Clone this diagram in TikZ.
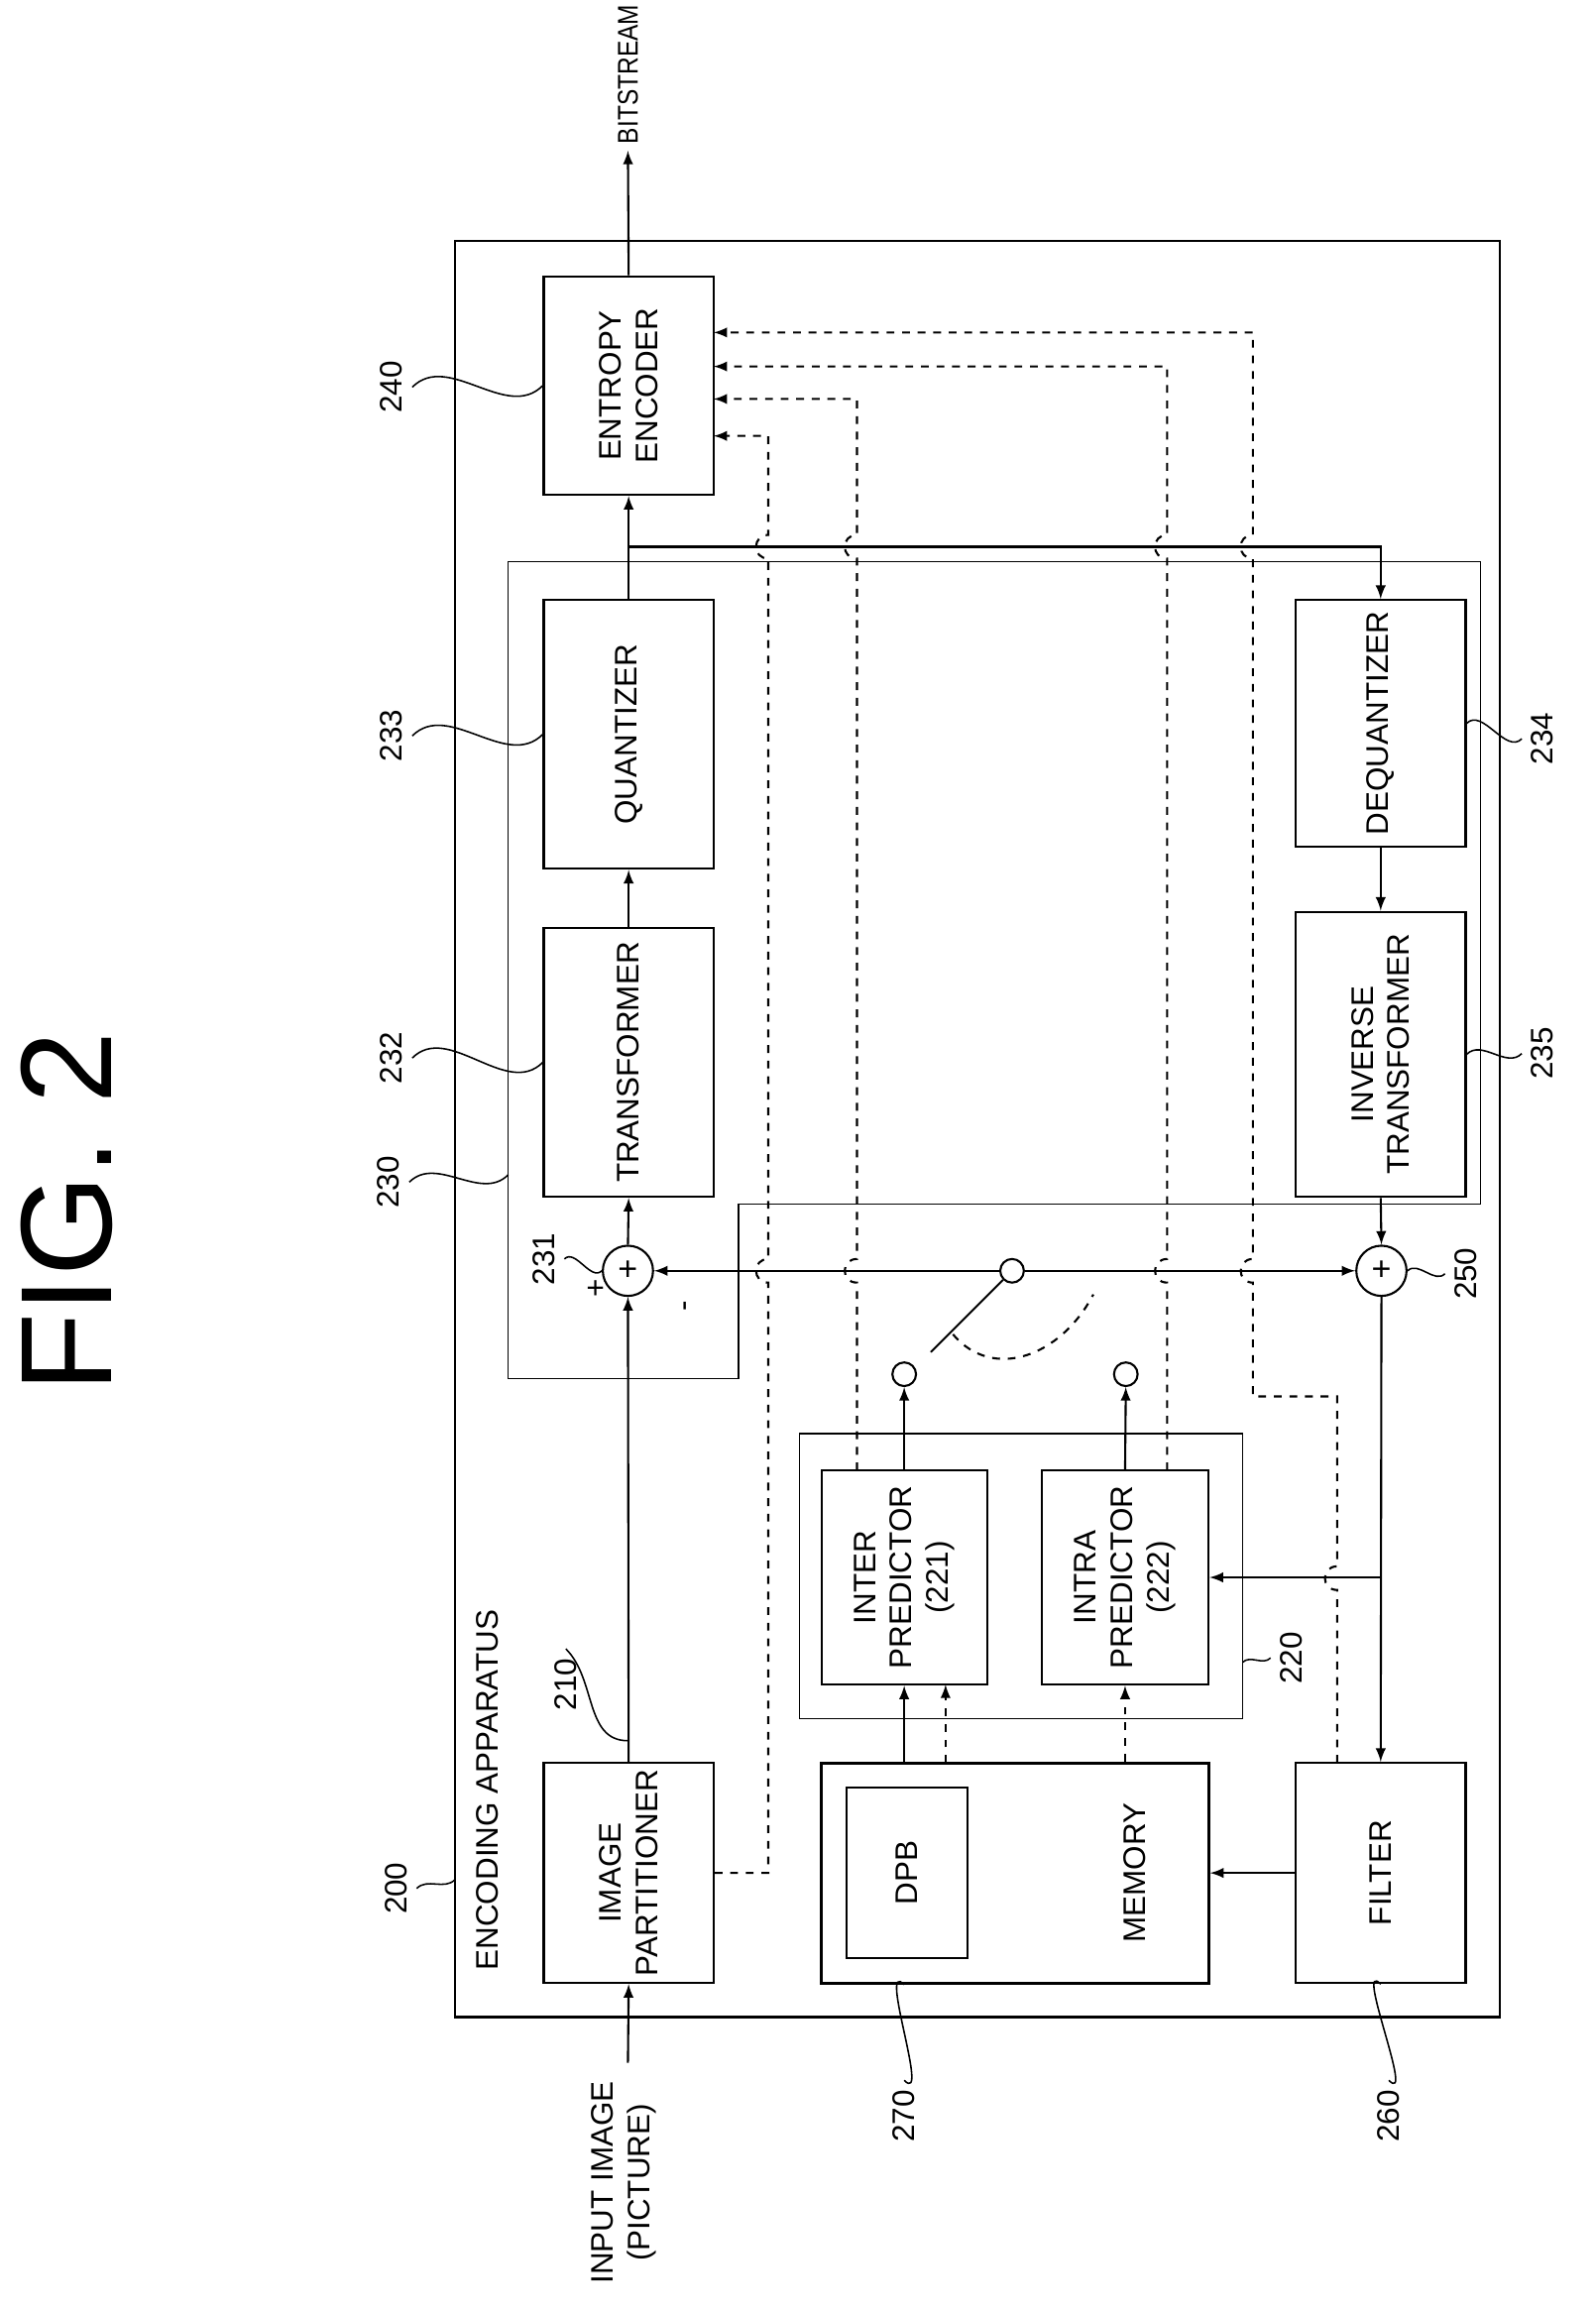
\documentclass[tikz,border=0pt]{standalone}
\usepackage{fontspec}
\setmainfont{Liberation Sans}
\usetikzlibrary{positioning, calc, arrows}
\tikzset{Bx/.style={draw, thick, rotate=90, align=center, inner sep=0pt, font=\fontsize{12}{14}\selectfont}}
\tikzset{Ad/.style={draw, thick, circle, minimum size=34*0.02cm, inner sep=0pt, font=\fontsize{13}{13}\selectfont}}
\tikzset{Sw/.style={draw, circle, minimum size=16*0.02cm, inner sep=0pt}}
\tikzset{L/.style={rotate=90, font=\fontsize{12}{14}\selectfont, align=center}}
\tikzset{E/.style={draw, -latex}}
\tikzset{D/.style={draw, dashed, -latex}}
% hop of a vertical line going up over a horizontal one
\newcommand{\hopup}[2]{-- (#1,#2+8) .. controls (#1-11,#2+8) and (#1-11,#2-8) .. (#1,#2-8)}
\begin{document}
\begin{tikzpicture}[x=0.02cm, y=-0.02cm, thick]
        \useasboundingbox (0,0) rectangle (1080,1566);
        \node[L, font=\fontsize{50}{50}\selectfont] (fig) at (45,820) {FIG. 2};
        %% Frames
        \node[draw, thick, minimum width=707*0.02cm, minimum height=1202*0.02cm, inner sep=0pt] (enc) at (661.5,764) {};
        \node[L, anchor=west] (enctxt) at (330,1340) {ENCODING APPARATUS};
        \draw[semithick] (344,380) -- (1002,380) -- (1002,815) -- (500,815) -- (500,933) -- (344,933) -- cycle;
        \node[draw, semithick, rotate=90, minimum width=193*0.02cm, minimum height=300*0.02cm, inner sep=0pt] (pred) at (691,1066.5) {};
        %% Blocks
        \node[Bx, minimum width=149*0.02cm, minimum height=115*0.02cm] (part) at (425.5,1267.5) {IMAGE\\PARTITIONER};
        \node[Bx, minimum width=148*0.02cm, minimum height=115*0.02cm] (ent) at (425.5,261) {ENTROPY\\ENCODER};
        \node[Bx, minimum width=182*0.02cm, minimum height=115*0.02cm] (quant) at (425.5,497) {QUANTIZER};
        \node[Bx, minimum width=182*0.02cm, minimum height=115*0.02cm] (trans) at (425.5,719) {TRANSFORMER};
        \node[Bx, minimum width=167*0.02cm, minimum height=115*0.02cm] (deq) at (934.5,489.5) {DEQUANTIZER};
        \node[Bx, minimum width=193*0.02cm, minimum height=115*0.02cm] (itr) at (934.5,713.5) {INVERSE\\TRANSFORMER};
        \node[Bx, minimum width=145*0.02cm, minimum height=112*0.02cm] (inter) at (612,1067.5) {INTER\\PREDICTOR\\(221)};
        \node[Bx, minimum width=145*0.02cm, minimum height=113*0.02cm] (intra) at (761.5,1067.5) {INTRA\\PREDICTOR\\(222)};
        \node[Bx, very thick, minimum width=149*0.02cm, minimum height=262*0.02cm] (mem) at (687,1267.5) {};
        \node[L] (memtxt) at (768,1267.5) {MEMORY};
        \node[Bx, minimum width=115*0.02cm, minimum height=82*0.02cm] (dpb) at (614,1267.5) {DPB};
        \node[Bx, minimum width=149*0.02cm, minimum height=115*0.02cm] (filt) at (934.5,1267.5) {FILTER};
        %% Adders and switch
        \node[Ad] (a231) at (425,860) {+};
        \node[Ad] (a250) at (935,860) {+};
        \node[L] (plus) at (404,872) {+};
        \node[L] (minus) at (466,884) {-};
        \node[Sw] (sw) at (685,860) {};
        \node[Sw] (c1) at (612,930) {};
        \node[Sw] (c2) at (762,930) {};
        %% Outside texts
        \coordinate (in) at (425,1396);
        \coordinate (bs) at (425,102);
        \node[L, anchor=east] (intxt) at (422,1402) {INPUT IMAGE\\(PICTURE)};
        \node[L, anchor=west, inner sep=0pt, font=\fontsize{11}{13}\selectfont\addfontfeature{FakeStretch=0.85}] (bstxt) at (425,98) {BITSTREAM};
        %% Solid edges
        \draw[E] (in) -- (part.west);
        \draw[E] (part.east) -- (a231.south);
        \draw[E] (a231.north) -- (trans.west);
        \draw[E] (trans.east) -- (quant.west);
        \draw[E] (quant.east) -- (ent.west);
        \draw[E] (ent.east) -- (bs);
        \coordinate (br) at (425,370);
        \draw[E] (br) -| (deq.east);
        \draw[E] (deq.west) -- (itr.east);
        \draw[E] (itr.west) -- (a250.north);
        \draw[E] (a250.south) -- (filt.east);
        \draw[E] (sw.west) -- (a231.east);
        \draw[E] (sw.east) -- (a250.west);
        \draw (sw.south west) -- (630,915);
        \draw[dashed] (645,903) .. controls (672,935) and (718,918) .. (740,876);
        \draw[E] (inter.east) -- (c1.south);
        \draw[E] (intra.east) -- (c2.south);
        \draw[E] (inter.west |- mem.east) -- (inter.west);
        \draw[D] (640,1193) -- (640,1140);
        \draw[D] (intra.west |- mem.east) -- (intra.west);
        \draw[E] (filt.north) -- (mem.south);
        \draw[E] (a250.south |- intra.south) -- (intra.south);
        %% Dashed edges to entropy encoder
        \draw[D] (part.south) -- (520,1267.5) \hopup{520}{860} \hopup{520}{370} -- (520,295) -- (483,295);
        \draw[D] (580,995) \hopup{580}{860} \hopup{580}{370} -- (580,270) -- (483,270);
        \draw[D] (790,995) \hopup{790}{860} \hopup{790}{370} -- (790,248) -- (483,248);
        \draw[D] (905,1193) \hopup{905}{1068} -- (905,945) -- (848,945) \hopup{848}{860} \hopup{848}{370} -- (848,225) -- (483,225);
        %% Reference numerals
        \node[L] (l200) at (268,1278) {200};
        \node[L] (l210) at (383,1140) {210};
        \node[L] (l230) at (263,800) {230};
        \node[L] (l231) at (368,852) {231};
        \node[L] (l232) at (265,716) {232};
        \node[L] (l233) at (265,498) {233};
        \node[L] (l240) at (265,262) {240};
        \node[L] (l234) at (1044,500) {234};
        \node[L] (l235) at (1044,713) {235};
        \node[L] (l250) at (992,862) {250};
        \node[L] (l220) at (874,1122) {220};
        \node[L] (l260) at (940,1432) {260};
        \node[L] (l270) at (612,1432) {270};
        \draw[semithick] (l200.south) to[out=45,in=225] (308,1272);
        \draw[semithick] (l210.east) to[out=-45,in=180] (425,1178);
        \draw[semithick] (l230.south) to[out=45,in=225] (344,795);
        \draw[semithick] (l231.south) to[out=45,in=225] (a231.west);
        \draw[semithick] (l232.south) to[out=45,in=225] (trans.north);
        \draw[semithick] (l233.south) to[out=45,in=225] (quant.north);
        \draw[semithick] (l240.south) to[out=45,in=225] (ent.north);
        \draw[semithick] (l234.north) to[out=225,in=45] (deq.south);
        \draw[semithick] (l235.north) to[out=225,in=45] (itr.south);
        \draw[semithick] (l250.north) to[out=225,in=45] (a250.east);
        \draw[semithick] (l220.north) to[out=225,in=45] (841,1125);
        \draw[semithick] (l260.east) to[out=-45,in=135] (filt.west);
        \draw[semithick] (l270.east) to[out=-45,in=135] (mem.west -| l270);
\end{tikzpicture}
\end{document}
